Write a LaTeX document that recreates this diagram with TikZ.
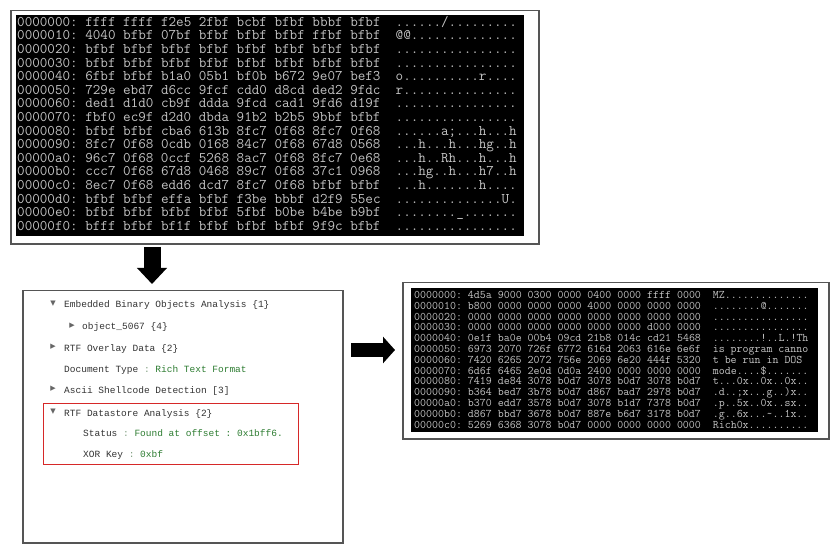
\documentclass[tikz,border=0pt]{standalone}
\usepackage{fontspec}
\usepackage{xcolor}
\usetikzlibrary{arrows.meta, positioning}
\newfontfamily\uimono{Liberation Mono}
\newfontfamily\uisym{DejaVu Sans}
\frenchspacing
\definecolor{dumpgray}{RGB}{196,196,196}
\definecolor{treetext}{RGB}{51,51,51}
\definecolor{treegreen}{RGB}{46,125,50}
\definecolor{treecolon}{RGB}{130,160,130}
\definecolor{framegray}{RGB}{85,85,85}
\definecolor{boxred}{RGB}{214,40,40}
\tikzset{
  panel/.style={
    rectangle,
    anchor=north west,
    draw=framegray,
    line width=1.5bp,
    fill=white,
    inner sep=0pt
  },
  screen/.style={
    rectangle,
    anchor=north west,
    fill=black,
    inner sep=0pt
  },
  toprow/.style={
    anchor=base west,
    inner sep=0pt,
    text=dumpgray,
    font=\ttfamily\fontsize{14.7bp}{14.7bp}\selectfont
  },
  perow/.style={
    anchor=base west,
    inner sep=0pt,
    text=dumpgray,
    font=\ttfamily\fontsize{11.6bp}{11.6bp}\selectfont
  },
  treeitem/.style={
    anchor=base west,
    inner sep=0pt,
    text=treetext,
    font=\uimono\fontsize{9.5bp}{11bp}\selectfont
  },
  toggle/.style={
    inner sep=0pt,
    text=black!60,
    font=\uisym\fontsize{7bp}{7bp}\selectfont
  },
  blockarrow/.style={
    draw=black
  }
}

\begin{document}
\begin{tikzpicture}[x=1bp, y=-1bp]
  \useasboundingbox (0,0) rectangle (839,552);

  % XOR-ENCODED DUMP
  \node (topframe) [panel, minimum width=528bp, minimum height=233bp] at (10,10) {};
  \node (topscreen) [screen, minimum width=508bp, minimum height=221bp] at (16,15) {};

  \node (t0) [toprow] at (17,26.4)  {0000000: ffff ffff f2e5 2fbf bcbf bfbf bbbf bfbf\ \ ....../.........};
  \node (t1) [toprow] at (17,40)    {0000010: 4040 bfbf 07bf bfbf bfbf bfbf ffbf bfbf\ \ @@..............};
  \node (t2) [toprow] at (17,53.6)  {0000020: bfbf bfbf bfbf bfbf bfbf bfbf bfbf bfbf\ \ ................};
  \node (t3) [toprow] at (17,67.2)  {0000030: bfbf bfbf bfbf bfbf bfbf bfbf bfbf bfbf\ \ ................};
  \node (t4) [toprow] at (17,80.8)  {0000040: 6fbf bfbf b1a0 05b1 bf0b b672 9e07 bef3\ \ o..........r....};
  \node (t5) [toprow] at (17,94.4)  {0000050: 729e ebd7 d6cc 9fcf cdd0 d8cd ded2 9fdc\ \ r...............};
  \node (t6) [toprow] at (17,108)   {0000060: ded1 d1d0 cb9f ddda 9fcd cad1 9fd6 d19f\ \ ................};
  \node (t7) [toprow] at (17,121.6) {0000070: fbf0 ec9f d2d0 dbda 91b2 b2b5 9bbf bfbf\ \ ................};
  \node (t8) [toprow] at (17,135.2) {0000080: bfbf bfbf cba6 613b 8fc7 0f68 8fc7 0f68\ \ ......a;...h...h};
  \node (t9) [toprow] at (17,148.8) {0000090: 8fc7 0f68 0cdb 0168 84c7 0f68 67d8 0568\ \ ...h...h...hg..h};
  \node (ta) [toprow] at (17,162.4) {00000a0: 96c7 0f68 0ccf 5268 8ac7 0f68 8fc7 0e68\ \ ...h..Rh...h...h};
  \node (tb) [toprow] at (17,176)   {00000b0: ccc7 0f68 67d8 0468 89c7 0f68 37c1 0968\ \ ...hg..h...h7..h};
  \node (tc) [toprow] at (17,189.6) {00000c0: 8ec7 0f68 edd6 dcd7 8fc7 0f68 bfbf bfbf\ \ ...h.......h....};
  \node (td) [toprow] at (17,203.2) {00000d0: bfbf bfbf effa bfbf f3be bbbf d2f9 55ec\ \ ..............U.};
  \node (te) [toprow] at (17,216.8) {00000e0: bfbf bfbf bfbf bfbf 5fbf b0be b4be b9bf\ \ ........\_.......};
  \node (tf) [toprow] at (17,230.4) {00000f0: bfff bfbf bf1f bfbf bfbf bfbf 9f9c bfbf\ \ ................};

  % ANALYSIS TREE
  \node (treeframe) [panel, minimum width=320bp, minimum height=252bp] at (22,290) {};
  \node (datastore) [rectangle, anchor=north west, draw=boxred, line width=1.2bp, minimum width=255bp, minimum height=61bp, inner sep=0pt] at (43,403) {};

  \node (tg1) [toggle] at (53,304) {▼};
  \node (embedded) [treeitem] at (64,308) {Embedded Binary Objects Analysis \{1\}};
  \node (tg2) [toggle] at (72,326) {▶};
  \node (object) [treeitem] at (82,330) {object\_5067 \{4\}};
  \node (tg3) [toggle] at (53,347) {▶};
  \node (overlay) [treeitem] at (64,351) {RTF Overlay Data \{2\}};
  \node (doctype) [treeitem] at (64,372) {Document Type \textcolor{treecolon}{:} \textcolor{treegreen}{Rich Text Format}};
  \node (tg4) [toggle] at (53,389) {▶};
  \node (shellcode) [treeitem] at (64,393) {Ascii Shellcode Detection [3]};
  \node (tg5) [toggle] at (53,412) {▼};
  \node (rtfstore) [treeitem] at (64,416) {RTF Datastore Analysis \{2\}};
  \node (status) [treeitem] at (83,436) {Status \textcolor{treecolon}{:} \textcolor{treegreen}{Found at offset : 0x1bff6.}};
  \node (xorkey) [treeitem] at (83,457) {XOR Key \textcolor{treecolon}{:} \textcolor{treegreen}{0xbf}};

  % DECODED PE DUMP
  \node (peframe) [panel, minimum width=426bp, minimum height=156bp] at (402,282) {};
  \node (pescreen) [screen, minimum width=407bp, minimum height=144bp] at (411,288) {};

  \node (p0) [perow] at (414,298.5) {0000000: 4d5a 9000 0300 0000 0400 0000 ffff 0000\ \ MZ..............};
  \node (p1) [perow] at (414,309.3) {0000010: b800 0000 0000 0000 4000 0000 0000 0000\ \ ........@.......};
  \node (p2) [perow] at (414,320.1) {0000020: 0000 0000 0000 0000 0000 0000 0000 0000\ \ ................};
  \node (p3) [perow] at (414,330.9) {0000030: 0000 0000 0000 0000 0000 0000 d000 0000\ \ ................};
  \node (p4) [perow] at (414,341.7) {0000040: 0e1f ba0e 00b4 09cd 21b8 014c cd21 5468\ \ ........!..L.!Th};
  \node (p5) [perow] at (414,352.5) {0000050: 6973 2070 726f 6772 616d 2063 616e 6e6f\ \ is program canno};
  \node (p6) [perow] at (414,363.3) {0000060: 7420 6265 2072 756e 2069 6e20 444f 5320\ \ t be run in DOS};
  \node (p7) [perow] at (414,374.1) {0000070: 6d6f 6465 2e0d 0d0a 2400 0000 0000 0000\ \ mode....\$.......};
  \node (p8) [perow] at (414,384.9) {0000080: 7419 de84 3078 b0d7 3078 b0d7 3078 b0d7\ \ t...0x..0x..0x..};
  \node (p9) [perow] at (414,395.7) {0000090: b364 bed7 3b78 b0d7 d867 bad7 2978 b0d7\ \ .d..;x...g..)x..};
  \node (pa) [perow] at (414,406.5) {00000a0: b370 edd7 3578 b0d7 3078 b1d7 7378 b0d7\ \ .p..5x..0x..sx..};
  \node (pb) [perow] at (414,417.3) {00000b0: d867 bbd7 3678 b0d7 887e b6d7 3178 b0d7\ \ .g..6x...\textasciitilde..1x..};
  \node (pc) [perow] at (414,428.1) {00000c0: 5269 6368 3078 b0d7 0000 0000 0000 0000\ \ Rich0x..........};

  % ARROWS
  \coordinate (downstart) at (152,247);
  \coordinate (downend) at (152,284);
  \coordinate (rightstart) at (351,350);
  \coordinate (rightend) at (395,350);
  \draw[blockarrow, line width=17bp, -{Triangle[length=16bp, width=29bp]}] (downstart) -- (downend);
  \draw[blockarrow, line width=14bp, -{Triangle[length=12bp, width=26bp]}] (rightstart) -- (rightend);

\end{tikzpicture}
\end{document}
